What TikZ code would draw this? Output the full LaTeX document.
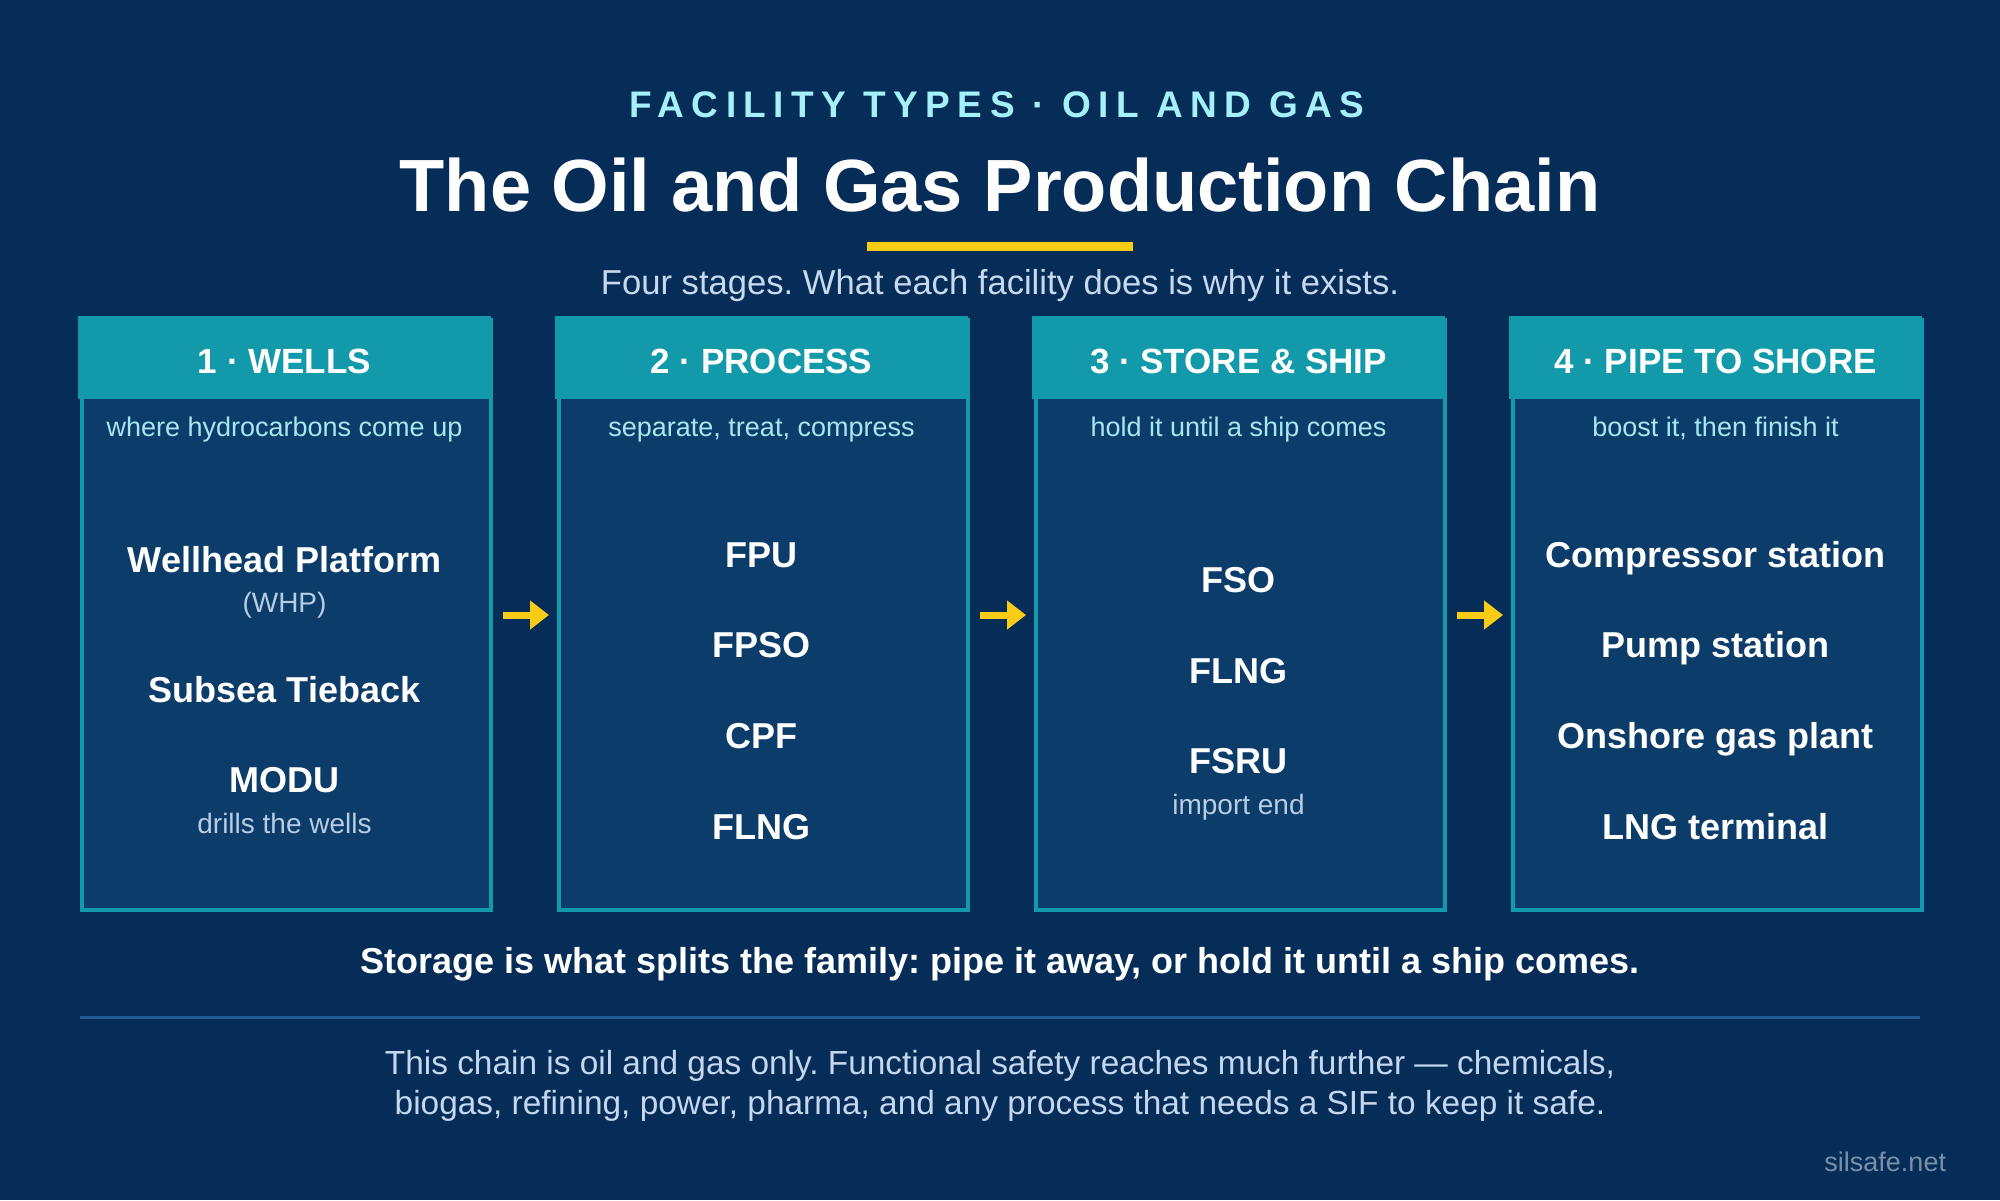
\documentclass[tikz,border=0pt]{standalone}
\usepackage{fontspec}
\setmainfont{Liberation Sans}
\newfontfamily\spacedfont[LetterSpace=20]{Liberation Sans}
\usetikzlibrary{arrows.meta}
\definecolor{bgc}{HTML}{052D57}
\definecolor{bodyc}{HTML}{0C3D6A}
\definecolor{tealc}{HTML}{139AAA}
\definecolor{cyanlt}{HTML}{A5F0FB}
\definecolor{subc}{HTML}{A8E6F0}
\definecolor{grayc}{HTML}{B8CCE4}
\definecolor{leadc}{HTML}{C8D8EE}
\definecolor{footc}{HTML}{C5D6EE}
\definecolor{markc}{HTML}{7B8FA8}
\definecolor{divc}{HTML}{1E5B8F}
\definecolor{yelc}{HTML}{FACC15}
\begin{document}
\frenchspacing
\begin{tikzpicture}[x=0.5pt,y=-0.5pt,
  txt/.style={anchor=base,inner sep=0pt,outer sep=0pt},
  cardbox/.style={draw=tealc,line width=2pt,fill=bodyc,minimum width=204.5pt,minimum height=295pt,anchor=north west,inner sep=0pt},
  headbox/.style={fill=tealc,minimum width=206.5pt,minimum height=41.5pt,anchor=north west,inner sep=0pt},
  headtxt/.style={txt,text=white,font=\bfseries\fontsize{17.5}{21}\selectfont},
  subtxt/.style={txt,text=subc,font=\fontsize{13.5}{16}\selectfont},
  item/.style={txt,text=white,font=\bfseries\fontsize{18}{22}\selectfont},
  note/.style={txt,text=grayc,font=\fontsize{14}{17}\selectfont},
  flow/.style={draw=yelc,line width=3.5pt,-{Triangle[length=9.5pt,width=14pt]}}
]
\fill[bgc] (0,0) rectangle (2000,1200);
\useasboundingbox (0,0) rectangle (2000,1200);

% top texts
\node[txt,text=cyanlt,font=\spacedfont\bfseries\fontsize{18.5}{22}\selectfont] (kicker) at (997,117) {FACILITY TYPES · OIL AND GAS};
\node[txt,text=white,font=\bfseries\fontsize{37}{44}\selectfont] (title) at (1000,211) {The Oil and Gas Production Chain};
\node[fill=yelc,minimum width=133pt,minimum height=4.5pt,inner sep=0pt] (bar) at (1000,246.5) {};
\node[txt,text=leadc,font=\fontsize{17.3}{21}\selectfont] (lead) at (1000,294) {Four stages. What each facility does is why it exists.};

% cards
\foreach \i/\lab/\sub in {1/{1 · WELLS}/{where hydrocarbons come up},
                          2/{2 · PROCESS}/{separate, treat, compress},
                          3/{3 · STORE \& SHIP}/{hold it until a ship comes},
                          4/{4 · PIPE TO SHORE}/{boost it, then finish it}}{
  \pgfmathsetmacro\xl{78+(\i-1)*477}
  \pgfmathsetmacro\xc{\xl+206.5}
  \node[cardbox] (card\i) at (\xl+2,318) {};
  \node[headbox] (head\i) at (\xl,316) {};
  \node[headtxt] (htxt\i) at (\xc,373) {\lab};
  \node[subtxt] (stxt\i) at (\xc,436) {\sub};
}

% card 1
\node[item] (whp) at (284.5,572) {Wellhead Platform};
\node[note] (whpn) at (284.5,612) {(WHP)};
\node[item] (sst) at (284.5,702) {Subsea Tieback};
\node[item] (modu) at (284.5,792) {MODU};
\node[note] (modun) at (284.5,833) {drills the wells};
% card 2
\node[item] (fpu) at (761.5,567) {FPU};
\node[item] (fpso) at (761.5,657) {FPSO};
\node[item] (cpf) at (761.5,748) {CPF};
\node[item] (flngA) at (761.5,839) {FLNG};
% card 3
\node[item] (fso) at (1238.5,592) {FSO};
\node[item] (flngB) at (1238.5,683) {FLNG};
\node[item] (fsru) at (1238.5,773) {FSRU};
\node[note] (fsrun) at (1238.5,814) {import end};
% card 4
\node[item] (comp) at (1715.5,567) {Compressor station};
\node[item] (pump) at (1715.5,657) {Pump station};
\node[item] (ogp) at (1715.5,748) {Onshore gas plant};
\node[item] (lng) at (1715.5,839) {LNG terminal};

% arrows
\foreach \a/\b in {1/2,2/3,3/4}{
  \draw[flow] ([xshift=5pt]card\a.east) -- ([xshift=-4pt]card\b.west);
}

% bottom
\node[txt,text=white,font=\bfseries\fontsize{18}{22}\selectfont] (key) at (1000,973) {Storage is what splits the family: pipe it away, or hold it until a ship comes.};
\coordinate (dl) at (80,1017);
\coordinate (dr) at (1920,1017);
\draw[divc,line width=1.5pt] (dl) -- (dr);
\node[txt,text=footc,font=\fontsize{16.7}{20}\selectfont] (foot1) at (1000,1074) {This chain is oil and gas only. Functional safety reaches much further — chemicals,};
\node[txt,text=footc,font=\fontsize{16.7}{20}\selectfont] (foot2) at (1000,1114) {biogas, refining, power, pharma, and any process that needs a SIF to keep it safe.};
\node[txt,anchor=base east,text=markc,font=\fontsize{13.5}{16}\selectfont] (mark) at (1946,1171) {silsafe.net};
\end{tikzpicture}
\end{document}
